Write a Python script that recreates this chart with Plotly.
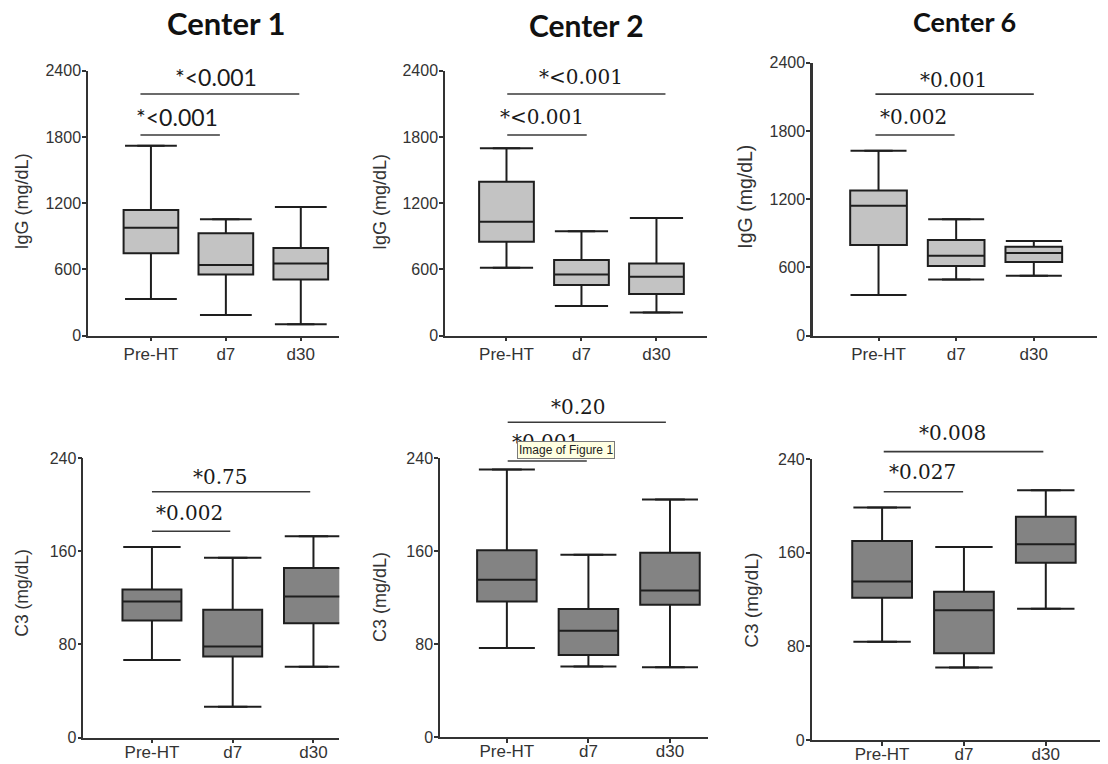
import plotly.graph_objects as go

# ---------------- data ----------------
categories = ["Pre-HT", "d7", "d30"]
centers = ["Center 1", "Center 2", "Center 6"]

# IgG (mg/dL) box statistics per center: [Pre-HT, d7, d30]
igg_lower = [[332, 187, 103], [616, 269, 211], [357, 495, 527]]
igg_q1 = [[746, 555, 510], [851, 459, 377], [797, 612, 648]]
igg_median = [[978, 640, 655], [1032, 555, 534], [1143, 703, 727]]
igg_q3 = [[1138, 927, 794], [1395, 685, 655], [1277, 841, 782]]
igg_upper = [[1721, 1054, 1165], [1697, 945, 1066], [1626, 1023, 832]]

# C3 (mg/dL) box statistics per center
c3_lower = [[66.7, 26.4, 60.9], [76.5, 60.7, 59.9], [84, 62, 112]]
c3_q1 = [[100.6, 69.6, 98.3], [116.5, 70.5, 113.7], [121.4, 74, 151.4]]
c3_median = [[117.0, 78.2, 121.3], [135.3, 91.5, 126.0], [135.4, 110.9, 167.1]]
c3_q3 = [[127.3, 109.8, 145.7], [160.6, 110.2, 158.6], [170, 126.6, 190.6]]
c3_upper = [[163.8, 154.6, 173], [230.2, 156.8, 204.3], [198.6, 164.9, 213.4]]

igg_ticks = [0, 600, 1200, 1800, 2400]
c3_ticks = [0, 80, 160, 240]

# significance brackets per panel (order: IgG c1, c2, c6, C3 c1, c2, c6)
# each: [short (Pre-HT vs d7), long (Pre-HT vs d30)]
sig_text = [["*<0.001", "*<0.001"], ["*<0.001", "*<0.001"], ["*0.002", "*0.001"],
            ["*0.002", "*0.75"], ["*0.001", "*0.20"], ["*0.027", "*0.008"]]
sig_x0 = [[-0.14, -0.14], [0.01, 0.01], [-0.04, -0.04], [0, 0], [0.01, 0.01], [0.02, 0.02]]
sig_x1 = [[0.92, 1.98], [1.07, 2.12], [0.98, 2.0], [0.97, 1.96], [0.98, 1.95], [0.99, 1.97]]
sig_y = [[1817, 2189], [1817, 2189], [1764, 2124], [177.3, 211.3], [237.4, 270.8], [212, 246.3]]
sig_tx = [[0.35, 0.87], [0.48, 1.0], [0.45, 0.96], [0.47, 0.85], [0.47, 0.88], [0.49, 0.86]]
sig_ty = [[1983, 2346], [1983, 2346], [1925, 2247], [192.6, 224], [254, 284.3], [229, 262.6]]

# ---------------- layout geometry (pixels of the 1108x764 page) ----------------
OFF = 8            # default page body margin
FW, FH = 1100, 756  # figure size so that it ends at the window edge

def fx(px):
    return (px - OFF) / FW
def fy(py):
    return 1 - (py - OFF) / FH

# panel boxes: (left, right, top, bottom) in page px, and x-range
panels = [
    dict(l=88, r=339, t=70.7, b=335.7, xr=[-0.84, 2.51]),
    dict(l=445, r=706.7, t=70.7, b=335.7, xr=[-0.82, 2.67]),
    dict(l=813.3, r=1096.7, t=62.7, b=335.7, xr=[-0.84, 2.81]),
    dict(l=83.3, r=339.3, t=458.3, b=737.5, xr=[-0.85, 2.32]),
    dict(l=440, r=708.3, t=458, b=737, xr=[-0.82, 2.47]),
    dict(l=811.7, r=1108, t=459, b=740, xr=[-0.86, 2.76]),
]
ytitle_pos = [(21.7, 201.7), (379.3, 201.7), (745, 196.7), (21.7, 593), (379.3, 596.7), (750.7, 600)]
ytitle_size = [18, 18, 19.5, 17.5, 18, 19]
title_pos = [(226, 23), (586, 25), (964, 21)]
title_size = [31, 30, 27]
cap_size = [37, 38, 40, 41, 40, 41]
sig_font = [dict(family="Lato", size=23), dict(family="DejaVu Serif", size=20),
            dict(family="DejaVu Serif", size=20), dict(family="DejaVu Serif", size=20),
            dict(family="DejaVu Serif", size=20), dict(family="DejaVu Serif", size=20)]

fig = go.Figure()
annotations = []
shapes = []

AX = "#333333"
for i in range(6):
    n = i + 1
    row = i // 3
    col = i % 3
    p = panels[i]
    if row == 0:
        lo, q1, me, q3, up = igg_lower[col], igg_q1[col], igg_median[col], igg_q3[col], igg_upper[col]
        fill = "#c3c3c3"
        ticks = igg_ticks
        ytitle = "IgG (mg/dL)"
    else:
        lo, q1, me, q3, up = c3_lower[col], c3_q1[col], c3_median[col], c3_q3[col], c3_upper[col]
        fill = "#838383"
        ticks = c3_ticks
        ytitle = "C3 (mg/dL)"
    ymax = ticks[-1]
    xa = "x" if n == 1 else f"x{n}"
    ya = "y" if n == 1 else f"y{n}"

    fig.add_trace(go.Box(
        x=categories, q1=q1, median=me, q3=q3, lowerfence=lo, upperfence=up,
        width=0.73, fillcolor=fill, line=dict(color="#1e1e1e", width=2),
        boxpoints=False, xaxis=xa, yaxis=ya, showlegend=False, hoverinfo="skip"))
    # whisker caps
    fig.add_trace(go.Scatter(
        x=categories + categories, y=list(lo) + list(up), mode="markers",
        marker=dict(symbol="line-ew", size=cap_size[i], line=dict(color="#1e1e1e", width=2)),
        xaxis=xa, yaxis=ya, showlegend=False, hoverinfo="skip"))

    axx = dict(domain=[fx(p["l"]), min(fx(p["r"]), 1.0)], range=p["xr"], type="category",
               categoryorder="array", categoryarray=categories,
               showline=True, linecolor=AX, linewidth=1.5, ticks="outside", ticklen=4,
               tickcolor=AX, tickwidth=1.5, showgrid=False, zeroline=False,
               tickfont=dict(family="Liberation Sans, Arial", size=17, color="#333"),
               ticklabelstandoff=(-2 if row == 0 else -6),
               anchor=ya, fixedrange=True, automargin=False)
    axy = dict(domain=[fy(p["b"]), fy(p["t"])], range=[0, ymax], tickvals=ticks,
               showline=True, linecolor=AX, linewidth=3 if i == 2 else 1.5,
               ticks="outside", ticklen=4, tickcolor=AX, tickwidth=1.5,
               showgrid=False, zeroline=False,
               tickfont=dict(family="Liberation Sans, Arial", size=16, color="#333"),
               ticklabelstandoff=-2,
               anchor=xa, fixedrange=True, automargin=False)
    fig.update_layout(**{("xaxis" if n == 1 else f"xaxis{n}"): axx,
                         ("yaxis" if n == 1 else f"yaxis{n}"): axy})

    r0, r1 = p["xr"]
    for k in range(2):
        shapes.append(dict(type="line", xref=f"{xa} domain", yref=f"{ya} domain",
                           x0=(sig_x0[i][k] - r0) / (r1 - r0), x1=(sig_x1[i][k] - r0) / (r1 - r0),
                           y0=sig_y[i][k] / ymax, y1=sig_y[i][k] / ymax,
                           line=dict(color="#3a3a3a", width=1.6)))
        annotations.append(dict(x=(sig_tx[i][k] - r0) / (r1 - r0), y=sig_ty[i][k] / ymax,
                                xref=f"{xa} domain", yref=f"{ya} domain",
                                text=sig_text[i][k], showarrow=False,
                                xanchor="center", yanchor="middle",
                                font=dict(color="#1a1a1a", **sig_font[i])))
    tx, ty = ytitle_pos[i]
    annotations.append(dict(x=fx(tx), y=fy(ty), xref="paper", yref="paper", text=ytitle,
                            textangle=-90, showarrow=False, xanchor="center", yanchor="middle",
                            font=dict(family="Liberation Sans, Arial", size=ytitle_size[i], color="#333")))

for c in range(3):
    tx, ty = title_pos[c]
    annotations.append(dict(x=fx(tx), y=fy(ty), xref="paper", yref="paper",
                            text=f"<b>{centers[c]}</b>", showarrow=False,
                            xanchor="center", yanchor="middle",
                            font=dict(family="Lato, Open Sans", size=title_size[c], color="#111")))

# screenshot tooltip present in the reference
annotations.append(dict(x=fx(565.5), y=fy(450), xref="paper", yref="paper",
                        text="Image of Figure 1", showarrow=False, xanchor="center", yanchor="middle",
                        bgcolor="#ffffe1", bordercolor="#7a7a7a", borderwidth=1, borderpad=1,
                        font=dict(family="Liberation Sans, Arial", size=12, color="#222")))

fig.update_layout(width=FW, height=FH, margin=dict(l=0, r=0, t=0, b=0, autoexpand=False),
                  paper_bgcolor="white", plot_bgcolor="white",
                  shapes=shapes, annotations=annotations, showlegend=False)

fig.write_html("out.html")
